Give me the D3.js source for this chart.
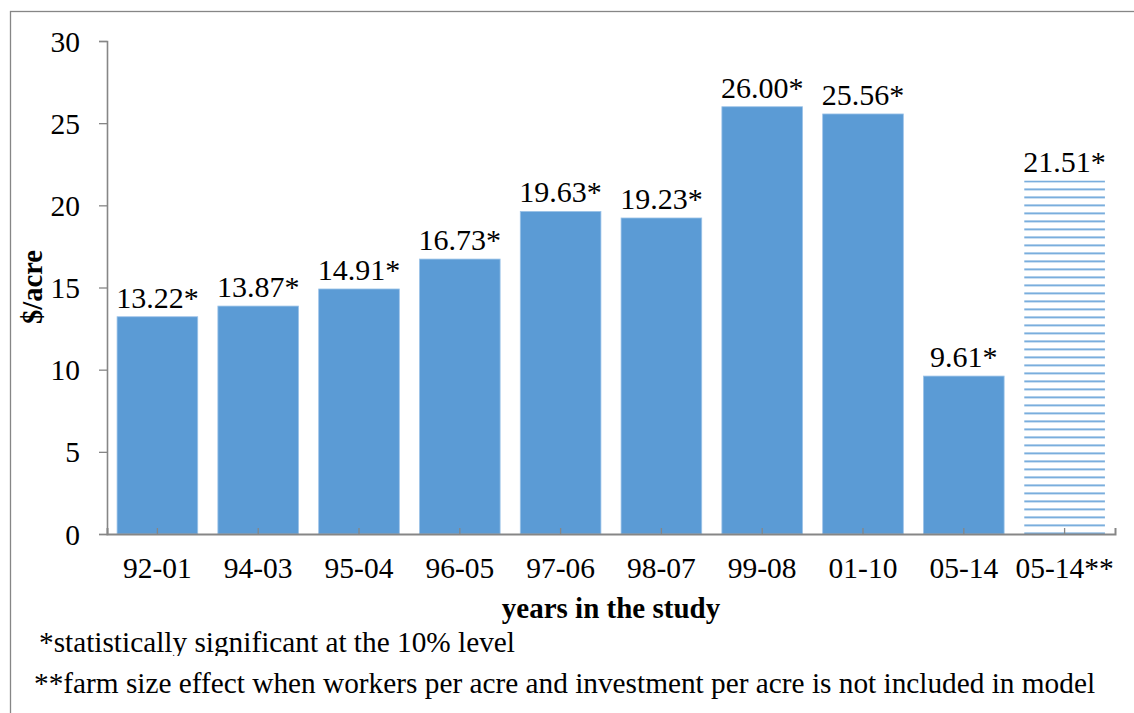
<!DOCTYPE html>
<html>
<head>
<meta charset="utf-8">
<script src="https://cdn.jsdelivr.net/npm/d3@7"></script>
<style>
  html, body { margin: 0; padding: 0; background: #fff; }
  svg { display: block; }
</style>
</head>
<body>
<script>
// Farm size effect by study window ($/acre)
const periods = ["92-01", "94-03", "95-04", "96-05", "97-06", "98-07", "99-08", "01-10", "05-14", "05-14**"];
const effects = [13.22, 13.87, 14.91, 16.73, 19.63, 19.23, 26.00, 25.56, 9.61, 21.51];
const valueLabels = ["13.22*", "13.87*", "14.91*", "16.73*", "19.63*", "19.23*", "26.00*", "25.56*", "9.61*", "21.51*"];
const hatched = [false, false, false, false, false, false, false, false, false, true];
const yTicks = [0, 5, 10, 15, 20, 25, 30];
const footnotes = [
  "*statistically significant at the 10% level",
  "**farm size effect when workers per acre and investment per acre is not included in model"
];

const W = 1134, H = 713;
const blue = "#5B9BD5";
const grey = "#868686";
const FONT = "'Liberation Serif', 'Times New Roman', serif";

const svg = d3.select("body").append("svg")
  .attr("width", W).attr("height", H);

const defs = svg.append("defs");

// Horizontal-line fill for the model variant bar
const pat = defs.append("pattern")
  .attr("id", "hlines")
  .attr("patternUnits", "userSpaceOnUse")
  .attr("width", 8).attr("height", 8);
pat.append("rect").attr("x", 0).attr("y", 0).attr("width", 8).attr("height", 1.6)
  .attr("fill", blue);

// The first footnote's text box is shorter than its line, cutting the descenders
defs.append("clipPath").attr("id", "noteClip")
  .append("rect").attr("x", 0).attr("y", 620).attr("width", W).attr("height", 36);

// Outer frame
svg.append("rect")
  .attr("x", 10.5).attr("y", 11.5)
  .attr("width", 1140).attr("height", 720)
  .attr("fill", "none").attr("stroke", grey).attr("stroke-width", 1.3);

const x = d3.scaleBand()
  .domain(periods)
  .range([107, 1115])
  .paddingInner(0.2)
  .paddingOuter(0.1);

const y = d3.scaleLinear().domain([0, 30]).range([534, 41]);

// Bars
const bars = svg.append("g");
periods.forEach((p, i) => {
  const top = y(effects[i]);
  if (hatched[i]) {
    pat.attr("y", top);
    bars.append("rect")
      .attr("x", x(p)).attr("y", top)
      .attr("width", x.bandwidth()).attr("height", y(0) - top)
      .attr("fill", "url(#hlines)");
  } else {
    bars.append("rect")
      .attr("x", x(p)).attr("y", top)
      .attr("width", x.bandwidth()).attr("height", y(0) - top)
      .attr("fill", blue)
      .attr("stroke", "#9cc3e8").attr("stroke-width", 0.8);
  }
});

// Value labels
svg.append("g").selectAll("text")
  .data(periods)
  .join("text")
  .attr("x", d => x(d) + x.bandwidth() / 2)
  .attr("y", (d, i) => y(effects[i]) - 9)
  .attr("text-anchor", "middle")
  .attr("font-size", 30)
  .style("font-family", FONT)
  .attr("fill", "#000")
  .text((d, i) => valueLabels[i]);

// Y axis
const yAxis = svg.append("g")
  .attr("transform", "translate(107,0)")
  .call(d3.axisLeft(y).tickValues(yTicks).tickSize(8).tickPadding(19).tickFormat(d3.format("d")));
yAxis.select(".domain").attr("stroke", grey).attr("stroke-width", 1.6);
yAxis.selectAll(".tick line").attr("stroke", grey).attr("stroke-width", 1.3);
yAxis.selectAll(".tick text")
  .attr("font-size", 29.5)
  .style("font-family", FONT)
  .attr("fill", "#000")
  .attr("dy", "0.34em");

// X axis: ticks at category centres pointing up into the plot
const xAxis = svg.append("g")
  .attr("transform", "translate(0,534)")
  .call(d3.axisBottom(x).tickSize(-6).tickSizeOuter(-6).tickPadding(44));
xAxis.select(".domain").attr("stroke", grey).attr("stroke-width", 2);
xAxis.selectAll(".tick line").attr("stroke", grey).attr("stroke-width", 1.3);
xAxis.selectAll(".tick text")
  .attr("font-size", 29.5)
  .style("font-family", FONT)
  .attr("fill", "#000")
  .attr("dy", "0");

// Axis titles
svg.append("text")
  .attr("transform", "translate(42,287) rotate(-90)")
  .attr("text-anchor", "middle")
  .attr("font-size", 28.5)
  .attr("font-weight", "bold")
  .style("font-family", FONT)
  .text("$/acre");

svg.append("text")
  .attr("x", 611).attr("y", 618)
  .attr("text-anchor", "middle")
  .attr("font-size", 29)
  .attr("font-weight", "bold")
  .style("font-family", FONT)
  .text("years in the study");

// Footnotes
svg.append("text")
  .attr("x", 39).attr("y", 652)
  .attr("font-size", 29.3)
  .style("font-family", FONT)
  .attr("clip-path", "url(#noteClip)")
  .text(footnotes[0]);

svg.append("text")
  .attr("x", 34).attr("y", 693)
  .attr("font-size", 29.3)
  .style("font-family", FONT)
  .text(footnotes[1]);
</script>
</body>
</html>
